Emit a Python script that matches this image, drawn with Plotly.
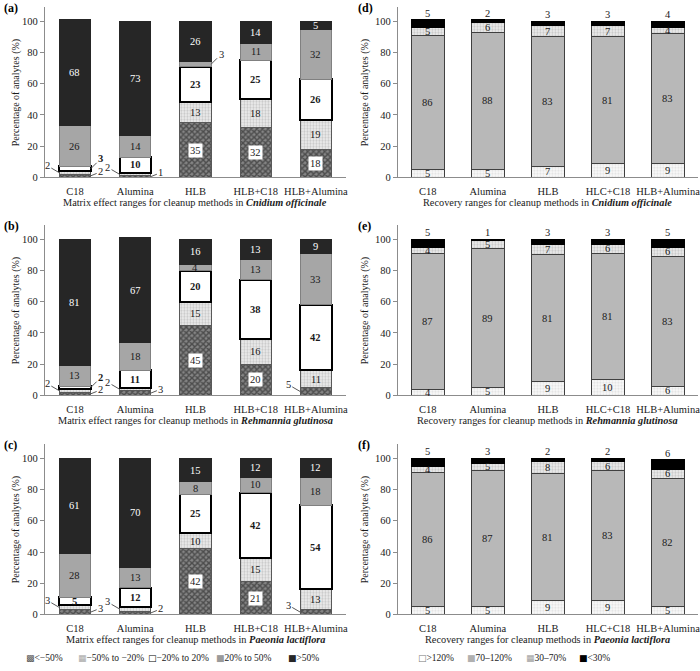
import plotly.graph_objects as go

methods_me = ["C18", "Alumina", "HLB", "HLB+C18", "HLB+Alumina"]
methods_rec = ["C18", "Alumina", "HLB", "HLC+C18", "HLB+Alumina"]
me_ranges = ["&lt;−50%", "−50% to −20%", "−20% to 20%", "20% to 50%", "&gt;50%"]
rec_ranges = ["&gt;120%", "70–120%", "30–70%", "&lt;30%"]

# rows follow the ranges (bottom of the stack first), columns follow the methods
me_cnidium = [
    [2, 1, 35, 32, 18],
    [2, 2, 13, 18, 19],
    [3, 10, 23, 25, 26],
    [26, 14, 3, 11, 32],
    [68, 73, 26, 14, 5],
]
me_rehmannia = [
    [2, 3, 45, 20, 5],
    [2, 2, 15, 16, 11],
    [2, 11, 20, 38, 42],
    [13, 18, 4, 13, 33],
    [81, 67, 16, 13, 9],
]
me_paeonia = [
    [3, 2, 42, 21, 3],
    [3, 3, 10, 15, 13],
    [5, 12, 25, 42, 54],
    [28, 13, 8, 10, 18],
    [61, 70, 15, 12, 12],
]
rec_cnidium = [
    [5, 5, 7, 9, 9],
    [86, 88, 83, 81, 83],
    [5, 6, 7, 7, 4],
    [5, 2, 3, 3, 4],
]
rec_rehmannia = [
    [4, 5, 9, 10, 6],
    [87, 89, 81, 81, 83],
    [4, 5, 7, 6, 6],
    [5, 1, 3, 3, 5],
]
rec_paeonia = [
    [5, 5, 9, 9, 5],
    [86, 87, 81, 83, 82],
    [4, 5, 8, 6, 6],
    [5, 3, 2, 2, 6],
]

# small segments labelled outside the bar: (method index, range index, side)
callouts_cnidium = [(0, 0, "low"), (0, 1, "left"), (0, 2, "high"), (1, 0, "low"), (1, 1, "left"), (2, 3, "high")]
callouts_rehmannia = [(0, 0, "low"), (0, 1, "left"), (0, 2, "high"), (1, 0, "low"), (1, 1, "left"), (4, 0, "left")]
callouts_paeonia = [(0, 0, "low"), (0, 1, "left"), (1, 0, "low"), (1, 1, "left"), (4, 0, "left")]

W, H = 700, 671
SERIF = "Liberation Serif, Times New Roman, Times, serif"
GREY_LINE = "#595959"
TXT = "#1a1a1a"
FS = 10.5

me_styles = [
    dict(color="#5e5e5e", pattern=dict(shape="x", fgcolor="#141414", bgcolor="#858585", size=4, solidity=0.6),
         line=dict(color=GREY_LINE, width=1)),
    dict(color="#e6e6e6", pattern=dict(shape=".", fgcolor="#9a9a9a", bgcolor="#f0f0f0", size=3, solidity=0.45),
         line=dict(color=GREY_LINE, width=1)),
    dict(color="white", line=dict(color="black", width=2)),
    dict(color="#a6a6a6", line=dict(color="#808080", width=1)),
    dict(color="#262626", line=dict(color="#262626", width=1)),
]
rec_styles = [
    dict(color="#f4f4f4", pattern=dict(shape=".", fgcolor="#c4c4c4", bgcolor="#fafafa", size=3, solidity=0.4),
         line=dict(color="#404040", width=1)),
    dict(color="#b8b8b8", line=dict(color="#404040", width=1)),
    dict(color="#e0e0e0", pattern=dict(shape=".", fgcolor="#999999", bgcolor="#f0f0f0", size=3, solidity=0.45),
         line=dict(color="#404040", width=1)),
    dict(color="#000000", line=dict(color="#000000", width=1)),
]

left_x = [45, 347]
right_x = [399, 700]
zero_y = [179, 399, 620]
unit = 1.575  # px per percent
ymax = 109

panels = [
    ("a", me_cnidium, "me", "Matrix effect", "Cnidium officinale", callouts_cnidium, 0, 0),
    ("d", rec_cnidium, "rec", "Recovery", "Cnidium officinale", [], 1, 0),
    ("b", me_rehmannia, "me", "Matrix effect", "Rehmannia glutinosa", callouts_rehmannia, 0, 1),
    ("e", rec_rehmannia, "rec", "Recovery", "Rehmannia glutinosa", [], 1, 1),
    ("c", me_paeonia, "me", "Matrix effect", "Paeonia lactiflora", callouts_paeonia, 0, 2),
    ("f", rec_paeonia, "rec", "Recovery", "Paeonia lactiflora", [], 1, 2),
]

fig = go.Figure()
annotations = []
offsets = {"left": (-12, -7), "low": (10, -4), "high": (10, -10)}

for k, (letter, values, kind, what, species, callouts, col, row) in enumerate(panels, start=1):
    xname = "x" if k == 1 else f"x{k}"
    yname = "y" if k == 1 else f"y{k}"
    methods = methods_me if kind == "me" else methods_rec
    styles = me_styles if kind == "me" else rec_styles
    width = 0.52 if kind == "me" else 0.54
    half = width / 2

    for r, seg in enumerate(values):
        fig.add_trace(go.Bar(
            x=list(range(len(methods))), y=seg, xaxis=xname, yaxis=yname,
            width=width, marker=styles[r], showlegend=False, hoverinfo="skip",
        ))

    # segment labels
    skip = {(i, r) for i, r, _ in callouts}
    for i in range(len(methods)):
        base = 0
        for r, seg in enumerate(values):
            v = seg[i]
            mid = base + v / 2
            top = base + v
            base = top
            if (i, r) in skip:
                continue
            label = str(v)
            color = TXT
            bg = None
            if kind == "me":
                if r == 2:
                    label = f"<b>{v}</b>"
                if r == 4:
                    color = "white"
                if r == 0:
                    bg = "white"
            if kind == "rec" and r == 3:
                annotations.append(dict(x=i, y=top, xref=xname, yref=yname, text=label, showarrow=False,
                                        xanchor="center", yanchor="bottom", yshift=-1,
                                        font=dict(family=SERIF, size=FS, color=color)))
                continue
            annotations.append(dict(x=i, y=mid, xref=xname, yref=yname, text=label, showarrow=False,
                                    xanchor="center", yanchor="middle", bgcolor=bg, borderpad=1,
                                    font=dict(family=SERIF, size=FS, color=color)))

    for i, r, side in callouts:
        v = values[r][i]
        base = sum(values[q][i] for q in range(r))
        ax, ay = offsets[side]
        xe = i - half if side == "left" else i + half
        label = f"<b>{v}</b>" if r == 2 else str(v)
        annotations.append(dict(x=xe, y=base + v / 2, xref=xname, yref=yname, text=label,
                                showarrow=True, arrowhead=0, arrowwidth=1, arrowcolor=GREY_LINE,
                                ax=ax, ay=ay, standoff=0, startstandoff=0,
                                font=dict(family=SERIF, size=FS, color=TXT)))

    xd = left_x if col == 0 else right_x
    z = zero_y[row]
    top_px = z - ymax * unit
    fig.layout[f"xaxis{'' if k == 1 else k}"] = dict(
        domain=[xd[0] / W, xd[1] / W], anchor=yname, range=[-0.5, len(methods) - 0.5],
        tickvals=list(range(len(methods))), ticktext=methods, showline=True, linecolor="#8c8c8c",
        ticks="", showgrid=False, zeroline=False, ticklabelstandoff=4, ticklabeloverflow="allow",
        tickfont=dict(family=SERIF, size=10.5, color=TXT),
    )
    fig.layout[f"yaxis{'' if k == 1 else k}"] = dict(
        domain=[1 - z / H, 1 - top_px / H], anchor=xname, range=[0, ymax],
        tickvals=[0, 20, 40, 60, 80, 100], showline=True, linecolor="#8c8c8c",
        ticks="outside", ticklen=4, tickcolor="#8c8c8c", showgrid=False, zeroline=False,
        tickfont=dict(family=SERIF, size=10.5, color=TXT),
    )

    x0 = 0 if col == 0 else 355
    annotations.append(dict(x=(x0 + 2) / W, y=1 - (top_px + 1) / H, xref="paper", yref="paper",
                            text=f"<b>({letter})</b>", showarrow=False, xanchor="left", yanchor="middle",
                            font=dict(family=SERIF, size=12, color="black")))
    annotations.append(dict(x=(x0 + 16 if col == 0 else 366) / W, y=0.5, xref="paper", yref=f"{yname} domain",
                            text="Percentage of analytes (%)", textangle=-90, showarrow=False,
                            xanchor="center", yanchor="middle",
                            font=dict(family=SERIF, size=10, color=TXT)))
    annotations.append(dict(x=(xd[0] + xd[1]) / 2 / W, y=1 - (z + 25) / H, xref="paper", yref="paper",
                            text=f"{what} ranges for cleanup methods in <b><i>{species}</i></b>",
                            showarrow=False, xanchor="center", yanchor="middle",
                            font=dict(family=SERIF, size=10.3, color=TXT)))

# legends built from small glyph swatches
SW = '<span style="font-family:DejaVu Sans;font-size:9px;color:{c}">{g}</span>'
me_swatches = [("▩", "#555555"), ("▦", "#a8a8a8"), ("□", "#000000"), ("■", "#9a9a9a"), ("■", "#262626")]
rec_swatches = [("□", "#777777"), ("■", "#b0b0b0"), ("▦", "#a0a0a0"), ("■", "#000000")]
me_legend_x = [24, 76, 146, 215, 287]
rec_legend_x = [417, 466, 525, 579]
for (g, c), name, lx in zip(me_swatches, me_ranges, me_legend_x):
    annotations.append(dict(x=lx / W, y=1 - 664 / H, xref="paper", yref="paper", xanchor="left",
                            yanchor="middle", text=SW.format(c=c, g=g) + name, showarrow=False,
                            font=dict(family=SERIF, size=9.5, color=TXT)))
for (g, c), name, lx in zip(rec_swatches, rec_ranges, rec_legend_x):
    annotations.append(dict(x=lx / W, y=1 - 664 / H, xref="paper", yref="paper", xanchor="left",
                            yanchor="middle", text=SW.format(c=c, g=g) + name, showarrow=False,
                            font=dict(family=SERIF, size=9.5, color=TXT)))

fig.update_layout(
    width=W, height=H, barmode="stack",
    margin=dict(l=0, r=0, t=0, b=0),
    plot_bgcolor="white", paper_bgcolor="white",
    annotations=annotations,
    font=dict(family=SERIF, size=FS),
)

# the page body has a default 8px margin; drop it so the figure sits at the window origin
fig.write_html("out.html", config={"displayModeBar": False},
               post_script="document.body.style.margin='0px';")
